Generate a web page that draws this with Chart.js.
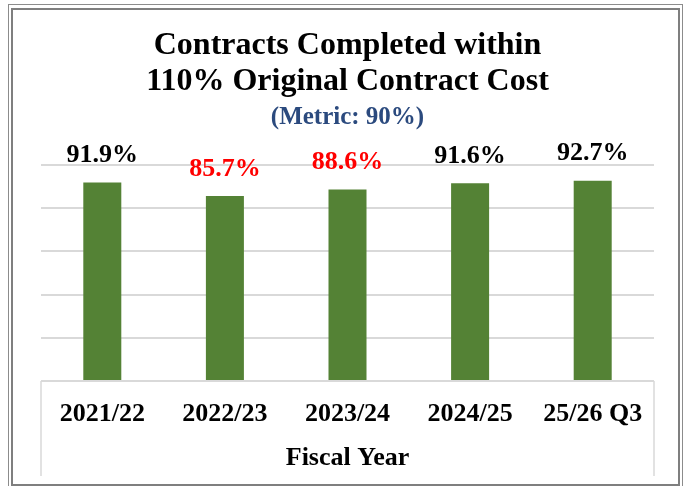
<!DOCTYPE html>
<html>
<head>
<meta charset="utf-8">
<script src="https://cdn.jsdelivr.net/npm/chart.js@4.4.1/dist/chart.umd.min.js"></script>
<style>
  html, body { margin: 0; padding: 0; background: #ffffff; }
  #wrap { position: relative; width: 687px; height: 486px; overflow: hidden; }
  #chart { position: absolute; left: 0; top: 0; }
  .frame { position: absolute; box-sizing: border-box; pointer-events: none; }
  #outer { left: 8px; top: 4px; width: 675px; height: 500px; border: 1px solid #8c8c8c; }
  #inner { left: 11px; top: 8px; width: 669px; height: 478px; border: 2px solid #7f7f7f; }
</style>
</head>
<body>
<div id="wrap">
  <div class="frame" id="outer"></div>
  <div class="frame" id="inner"></div>
  <canvas id="chart" width="687" height="486"></canvas>
</div>
<script>
const FONT = "'Liberation Serif', 'Times New Roman', serif";
const METRIC = 90;
const GREEN = "#548235";
const GRID = "#d9d9d9";

const fiscalYears = ["2021/22", "2022/23", "2023/24", "2024/25", "25/26 Q3"];
const completedPct = [91.9, 85.7, 88.6, 91.6, 92.7];
const titleLines = ["Contracts Completed within", "110% Original Contract Cost"];
const subtitleText = "(Metric: " + METRIC + "%)";

function labelColor(value){
  return value < METRIC ? "#ff0000" : "#000000";
}

// percent labels above bars, red when under the metric
const barLabels = {
  id: 'barLabels',
  afterDatasetsDraw(chart){
    const ctx = chart.ctx;
    const meta = chart.getDatasetMeta(0);
    ctx.save();
    ctx.font = "bold 26px " + FONT;
    ctx.textAlign = 'center';
    ctx.textBaseline = 'middle';
    meta.data.forEach((bar, i) => {
      const value = completedPct[i];
      ctx.fillStyle = labelColor(value);
      ctx.fillText(value.toFixed(1) + "%", bar.x, bar.y - 27);
    });
    ctx.restore();
  }
};

// side lines of the category axis box
const axisBox = {
  id: 'axisBox',
  afterDraw(chart){
    const ctx = chart.ctx;
    const area = chart.chartArea;
    const bottom = chart.scales.x.bottom - 2;
    ctx.save();
    ctx.strokeStyle = GRID;
    ctx.lineWidth = 1.5;
    ctx.beginPath();
    ctx.moveTo(area.left, area.bottom);
    ctx.lineTo(area.left, bottom);
    ctx.moveTo(area.right, area.bottom);
    ctx.lineTo(area.right, bottom);
    ctx.stroke();
    ctx.restore();
  }
};

function createChart(){
  const data = {
    labels: fiscalYears,
    datasets: [{
      label: 'Completed within 110%',
      data: completedPct,
      backgroundColor: GREEN,
      categoryPercentage: 1,
      barPercentage: 0.31
    }]
  };

  const config = {
    type: 'bar',
    data: data,
    options: {
      responsive: false,
      animation: false,
      layout: { padding: { top: 10, left: 41, right: 33, bottom: 8 } },
      plugins: {
        legend: { display: false },
        tooltip: { enabled: false },
        title: {
          display: true,
          text: titleLines,
          color: '#000000',
          font: { family: FONT, size: 32, weight: 'bold', lineHeight: 1.125 },
          padding: { top: 18, bottom: 0 }
        },
        subtitle: {
          display: true,
          text: subtitleText,
          color: '#2b4a7e',
          font: { family: FONT, size: 25, weight: 'bold', lineHeight: 1.2 },
          padding: { top: 3, bottom: 32 }
        }
      },
      scales: {
        x: {
          grid: { display: false },
          border: { display: false },
          afterFit(scale){ scale.height = 97; },
          ticks: {
            color: '#000000',
            padding: 10,
            font: { family: FONT, size: 26, weight: 'bold' }
          },
          title: {
            display: true,
            text: 'Fiscal Year',
            color: '#000000',
            font: { family: FONT, size: 26, weight: 'bold' },
            padding: { top: 4, bottom: 4 }
          }
        },
        y: {
          min: 0,
          max: 100,
          ticks: { display: false, stepSize: 20 },
          border: { display: false },
          grid: { color: GRID, lineWidth: 2, drawTicks: false }
        }
      }
    },
    plugins: [barLabels, axisBox]
  };

  return new Chart(document.getElementById('chart'), config);
}

const myChart = createChart();
</script>
</body>
</html>
